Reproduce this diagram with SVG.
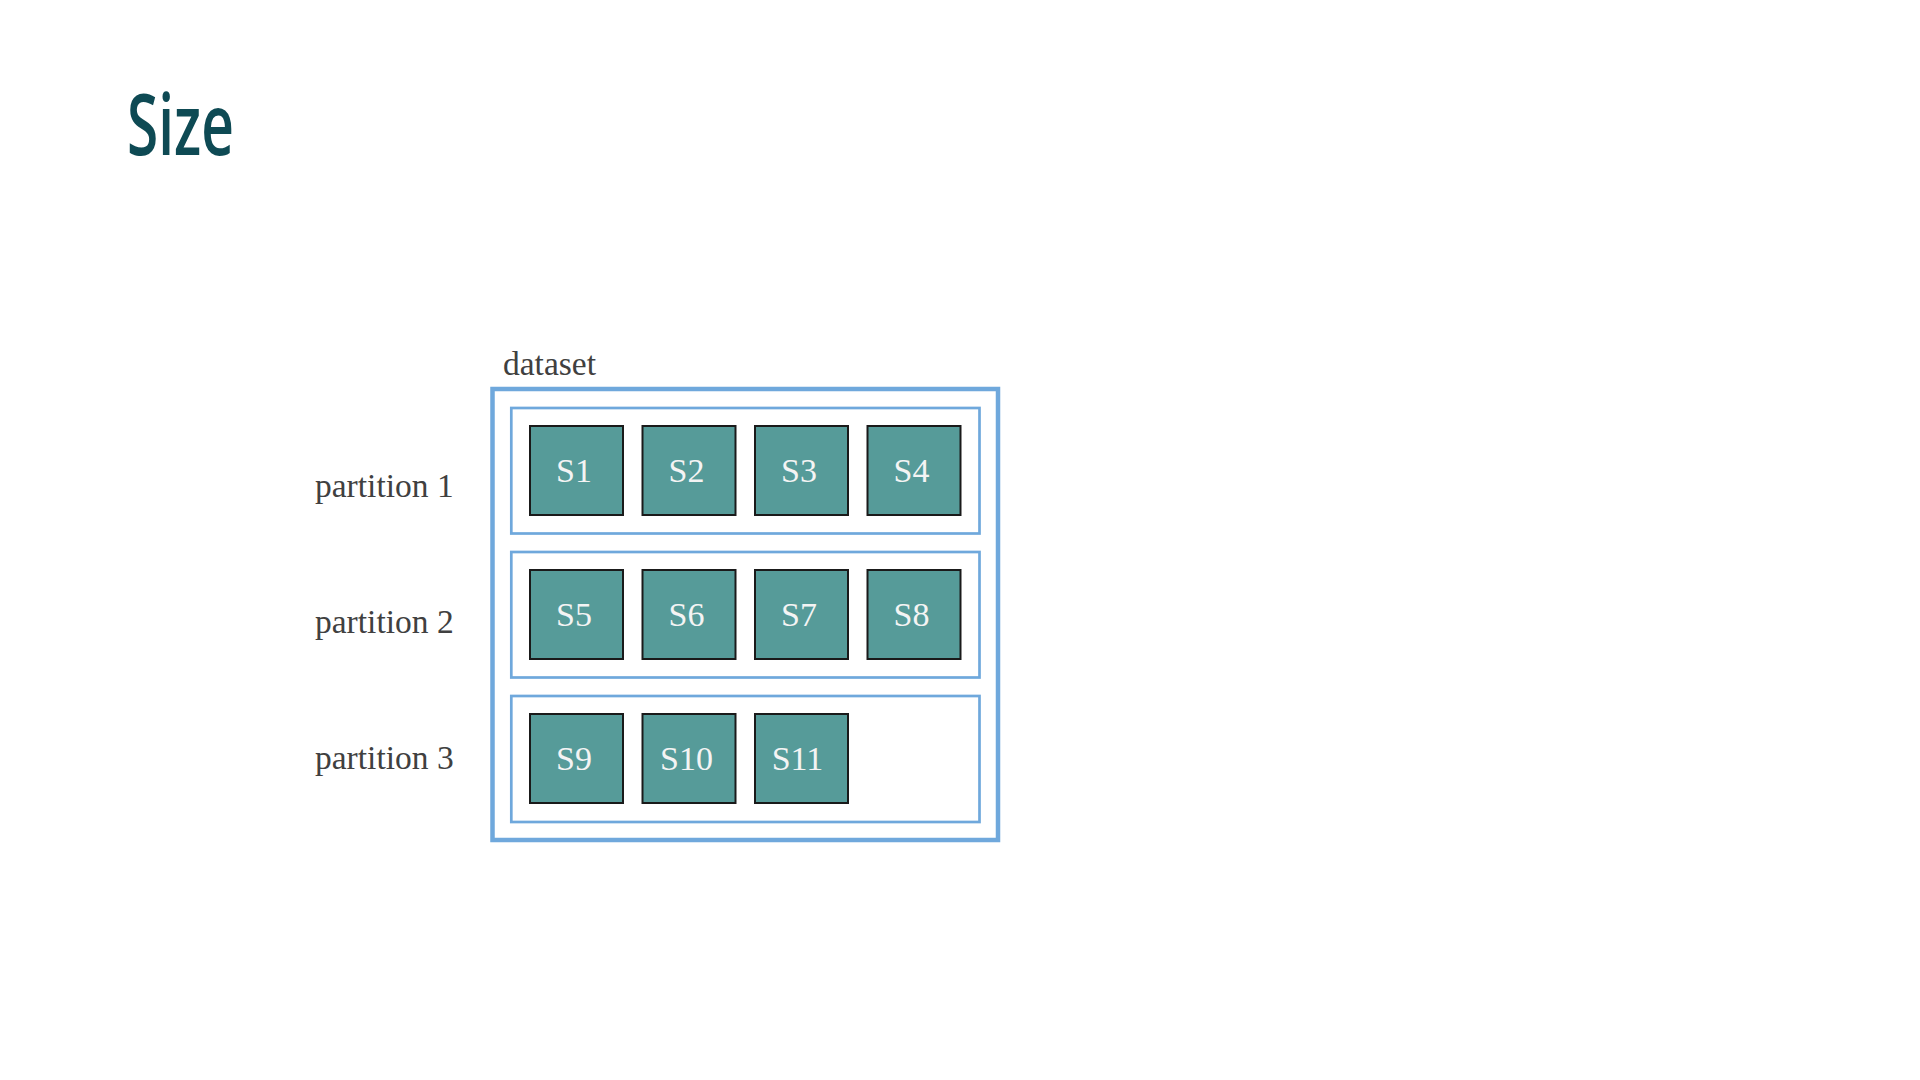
<svg xmlns="http://www.w3.org/2000/svg" width="1920" height="1080" viewBox="0 0 1920 1080">
  <style>
    .lbl { font-family: "Liberation Serif", "Times New Roman", serif; font-size: 33.5px; fill: #404040; }
    .s { fill: #569b99; stroke: #1a1a1a; stroke-width: 2; }
    .st { font-family: "Liberation Serif", "Times New Roman", serif; font-size: 34px; fill: #f4f4f4; text-anchor: middle; }
    .part { fill: none; stroke: #6fa8dc; stroke-width: 2.7; }
  </style>
  <rect width="1920" height="1080" fill="#ffffff"/>
  <g id="title">
    <text x="127" y="155" font-family="'Open Sans', 'Noto Sans', sans-serif" font-weight="600" font-size="85" fill="#0e4a54" textLength="107" lengthAdjust="spacingAndGlyphs">Size</text>
  </g>
  <g id="dataset">
    <rect x="492.5" y="389" width="505.5" height="451" fill="none" stroke="#6fa8dc" stroke-width="4.5"/>
    <text class="lbl" x="503" y="375" font-size="33">dataset</text>
  </g>
  <g id="partition1">
    <rect class="part" x="511.3" y="408" width="468.2" height="125.5"/>
    <text class="lbl" x="315" y="497">partition 1</text>
  </g>
  <g id="partition2">
    <rect class="part" x="511.3" y="552" width="468.2" height="125.5"/>
    <text class="lbl" x="315" y="633">partition 2</text>
  </g>
  <g id="partition3">
    <rect class="part" x="511.3" y="696" width="468.2" height="126"/>
    <text class="lbl" x="315" y="769">partition 3</text>
  </g>
  <g id="S1"><rect class="s" x="530" y="426" width="93" height="89"/><text class="st" x="574" y="482">S1</text></g>
  <g id="S2"><rect class="s" x="642.5" y="426" width="93" height="89"/><text class="st" x="686.5" y="482">S2</text></g>
  <g id="S3"><rect class="s" x="755" y="426" width="93" height="89"/><text class="st" x="799" y="482">S3</text></g>
  <g id="S4"><rect class="s" x="867.5" y="426" width="93" height="89"/><text class="st" x="911.5" y="482">S4</text></g>
  <g id="S5"><rect class="s" x="530" y="570" width="93" height="89"/><text class="st" x="574" y="626">S5</text></g>
  <g id="S6"><rect class="s" x="642.5" y="570" width="93" height="89"/><text class="st" x="686.5" y="626">S6</text></g>
  <g id="S7"><rect class="s" x="755" y="570" width="93" height="89"/><text class="st" x="799" y="626">S7</text></g>
  <g id="S8"><rect class="s" x="867.5" y="570" width="93" height="89"/><text class="st" x="911.5" y="626">S8</text></g>
  <g id="S9"><rect class="s" x="530" y="714" width="93" height="89"/><text class="st" x="574" y="770">S9</text></g>
  <g id="S10"><rect class="s" x="642.5" y="714" width="93" height="89"/><text class="st" x="686.5" y="770">S10</text></g>
  <g id="S11"><rect class="s" x="755" y="714" width="93" height="89"/><text class="st" x="797.5" y="770">S11</text></g>
  <g id="connectors"></g>
</svg>
